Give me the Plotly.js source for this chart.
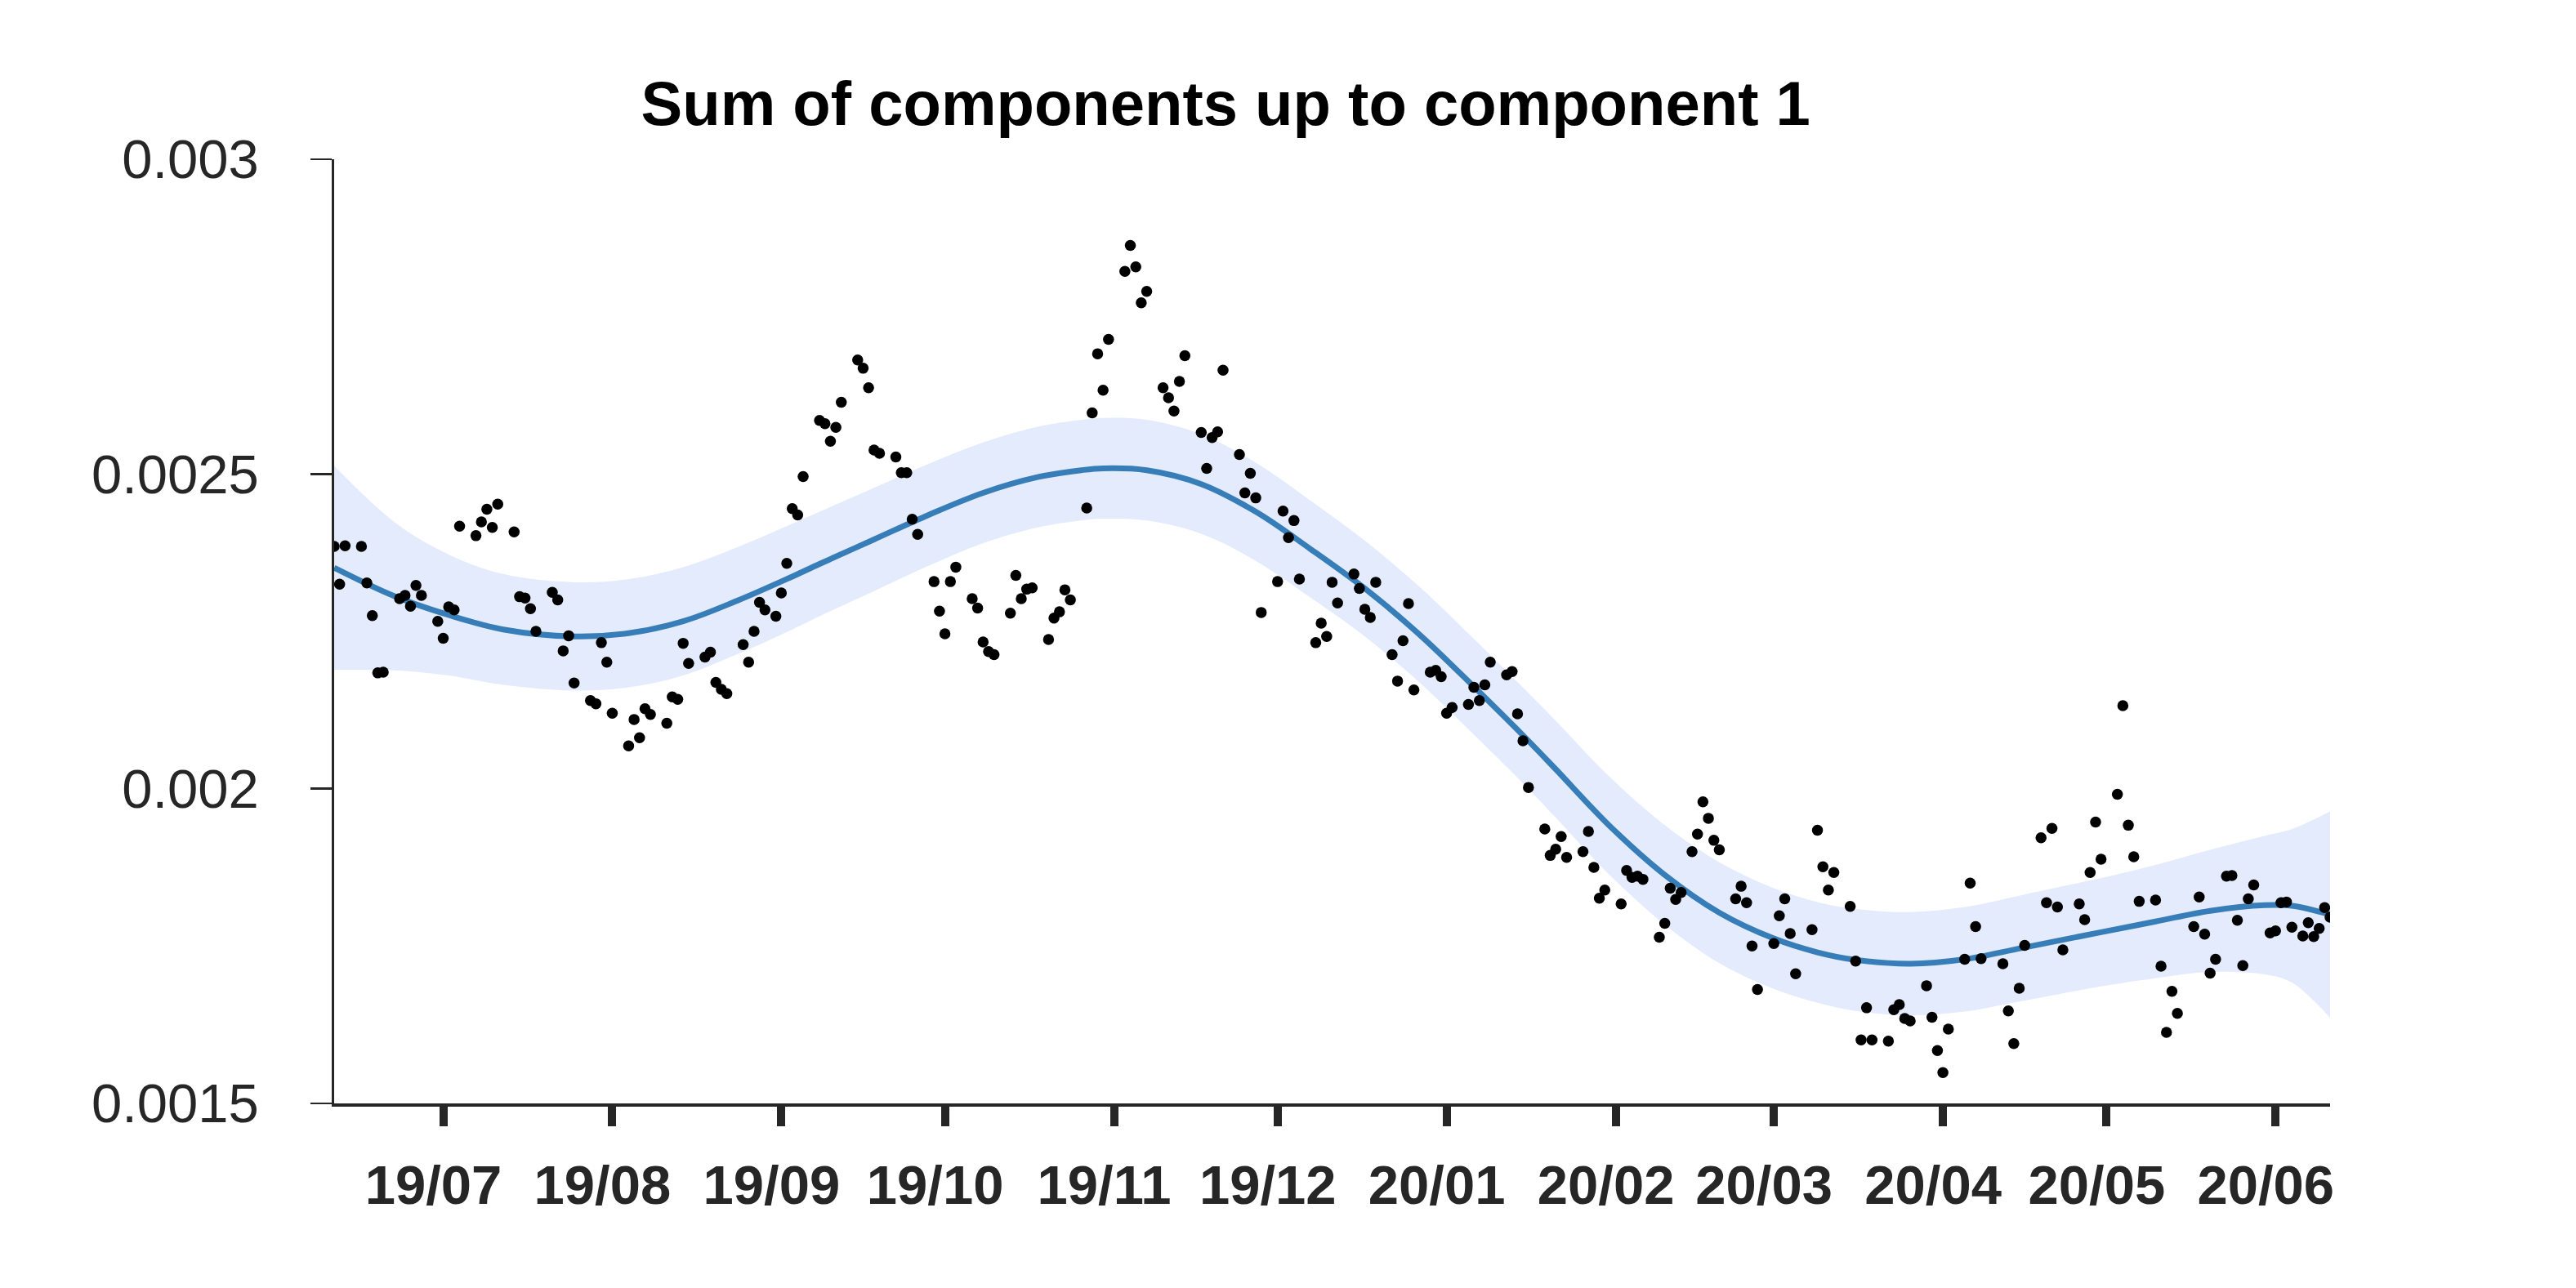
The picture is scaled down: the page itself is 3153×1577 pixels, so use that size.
<!DOCTYPE html>
<html>
<head>
<meta charset="utf-8">
<script src="https://cdn.plot.ly/plotly-3.0.1.min.js"></script>
<style>html,body{margin:0;padding:0;background:#fff;}#chart{width:3153px;height:1577px;}</style>
</head>
<body>
<div id="chart"></div>
<script>
// Observed points (dates and values)
const pointDates = [
"2019-06-11","2019-06-12","2019-06-13","2019-06-16","2019-06-17","2019-06-18","2019-06-19","2019-06-20",
"2019-06-23","2019-06-24","2019-06-25","2019-06-26","2019-06-27","2019-06-30","2019-07-01","2019-07-02",
"2019-07-03","2019-07-04","2019-07-07","2019-07-08","2019-07-09","2019-07-10","2019-07-11","2019-07-14",
"2019-07-15","2019-07-16","2019-07-17","2019-07-18","2019-07-21","2019-07-22","2019-07-23","2019-07-24",
"2019-07-25","2019-07-28","2019-07-29","2019-07-30","2019-07-31","2019-08-01","2019-08-04","2019-08-05",
"2019-08-06","2019-08-07","2019-08-08","2019-08-11","2019-08-12","2019-08-13","2019-08-14","2019-08-15",
"2019-08-18","2019-08-19","2019-08-20","2019-08-21","2019-08-22","2019-08-25","2019-08-26","2019-08-27",
"2019-08-28","2019-08-29","2019-08-31","2019-09-01","2019-09-02","2019-09-03","2019-09-04","2019-09-05",
"2019-09-08","2019-09-09","2019-09-10","2019-09-11","2019-09-12","2019-09-15","2019-09-16","2019-09-17",
"2019-09-18","2019-09-19","2019-09-22","2019-09-23","2019-09-24","2019-09-25","2019-09-26","2019-09-29",
"2019-09-30","2019-10-01","2019-10-02","2019-10-03","2019-10-06","2019-10-07","2019-10-08","2019-10-09",
"2019-10-10","2019-10-13","2019-10-14","2019-10-15","2019-10-16","2019-10-17","2019-10-20","2019-10-21",
"2019-10-22","2019-10-23","2019-10-24","2019-10-27","2019-10-28","2019-10-29","2019-10-30","2019-10-31",
"2019-11-03","2019-11-04","2019-11-05","2019-11-06","2019-11-07","2019-11-10","2019-11-11","2019-11-12",
"2019-11-13","2019-11-14","2019-11-17","2019-11-18","2019-11-19","2019-11-20","2019-11-21","2019-11-24",
"2019-11-25","2019-11-26","2019-11-27","2019-11-28","2019-12-01","2019-12-02","2019-12-03","2019-12-04",
"2019-12-05","2019-12-08","2019-12-09","2019-12-10","2019-12-11","2019-12-12","2019-12-15","2019-12-16",
"2019-12-17","2019-12-18","2019-12-19","2019-12-22","2019-12-23","2019-12-24","2019-12-25","2019-12-26",
"2019-12-29","2019-12-30","2019-12-31","2020-01-01","2020-01-02","2020-01-05","2020-01-06","2020-01-07",
"2020-01-08","2020-01-09","2020-01-12","2020-01-13","2020-01-14","2020-01-15","2020-01-16","2020-01-19",
"2020-01-20","2020-01-21","2020-01-22","2020-01-23","2020-01-26","2020-01-27","2020-01-28","2020-01-29",
"2020-01-30","2020-02-02","2020-02-03","2020-02-04","2020-02-05","2020-02-06","2020-02-09","2020-02-10",
"2020-02-11","2020-02-12","2020-02-13","2020-02-15","2020-02-16","2020-02-17","2020-02-18","2020-02-19",
"2020-02-20","2020-02-23","2020-02-24","2020-02-25","2020-02-26","2020-02-27","2020-03-01","2020-03-02",
"2020-03-03","2020-03-04","2020-03-05","2020-03-08","2020-03-09","2020-03-10","2020-03-11","2020-03-12",
"2020-03-15","2020-03-16","2020-03-17","2020-03-18","2020-03-19","2020-03-22","2020-03-23","2020-03-24",
"2020-03-25","2020-03-26","2020-03-29","2020-03-30","2020-03-31","2020-04-01","2020-04-02","2020-04-05",
"2020-04-06","2020-04-07","2020-04-08","2020-04-12","2020-04-13","2020-04-14","2020-04-15","2020-04-16",
"2020-04-19","2020-04-20","2020-04-21","2020-04-22","2020-04-23","2020-04-26","2020-04-27","2020-04-28",
"2020-04-29","2020-04-30","2020-05-03","2020-05-04","2020-05-05","2020-05-06","2020-05-07","2020-05-10",
"2020-05-11","2020-05-12","2020-05-13","2020-05-14","2020-05-17","2020-05-18","2020-05-19","2020-05-20",
"2020-05-21","2020-05-23","2020-05-24","2020-05-25","2020-05-26","2020-05-27","2020-05-28","2020-05-31",
"2020-06-01","2020-06-02","2020-06-03","2020-06-04","2020-06-06","2020-06-07","2020-06-08","2020-06-09",
"2020-06-10","2020-06-11"
];
const pointValues = [
0.002385,0.002325,0.002386,0.002385,0.002327,0.002275,0.002184,0.002185,
0.002302,0.002307,0.002290,0.002323,0.002307,0.002266,0.002239,0.002289,
0.002284,0.002417,0.002402,0.002424,0.002444,0.002415,0.002452,0.002408,
0.002305,0.002303,0.002286,0.002250,0.002312,0.002300,0.002219,0.002243,
0.002168,0.002140,0.002135,0.002232,0.002201,0.002120,0.002068,0.002110,
0.002081,0.002127,0.002118,0.002104,0.002146,0.002142,0.002231,0.002199,
0.002209,0.002217,0.002169,0.002158,0.002151,0.002229,0.002201,0.002250,
0.002296,0.002284,0.002274,0.002311,0.002358,0.002445,0.002435,0.002496,
0.002585,0.002580,0.002552,0.002574,0.002614,0.002681,0.002668,0.002637,
0.002538,0.002533,0.002527,0.002502,0.002502,0.002428,0.002404,0.002329,
0.002282,0.002246,0.002329,0.002352,0.002302,0.002287,0.002233,0.002218,
0.002213,0.002279,0.002339,0.002302,0.002317,0.002319,0.002237,0.002271,
0.002281,0.002316,0.002300,0.002446,0.002597,0.002691,0.002633,0.002714,
0.002822,0.002863,0.002829,0.002772,0.002790,0.002637,0.002621,0.002600,
0.002647,0.002688,0.002566,0.002509,0.002558,0.002567,0.002665,0.002531,
0.002470,0.002501,0.002462,0.002280,0.002329,0.002441,0.002399,0.002426,
0.002333,0.002232,0.002263,0.002242,0.002328,0.002295,0.002341,0.002318,
0.002285,0.002272,0.002328,0.002213,0.002171,0.002235,0.002294,0.002157,
0.002185,0.002188,0.002178,0.002120,0.002129,0.002134,0.002161,0.002140,
0.002165,0.002201,0.002181,0.002186,0.002119,0.002076,0.002002,0.001936,
0.001894,0.001904,0.001924,0.001891,0.001900,0.001932,0.001875,0.001826,
0.001839,0.001817,0.001870,0.001859,0.001861,0.001856,0.001764,0.001786,
0.001842,0.001824,0.001835,0.001900,0.001928,0.001979,0.001953,0.001918,
0.001903,0.001825,0.001845,0.001819,0.001750,0.001681,0.001754,0.001798,
0.001825,0.001770,0.001706,0.001776,0.001934,0.001876,0.001839,0.001867,
0.001813,0.001726,0.001601,0.001652,0.001601,0.001599,0.001649,0.001657,
0.001635,0.001631,0.001687,0.001637,0.001584,0.001549,0.001618,0.001729,
0.001850,0.001781,0.001730,0.001722,0.001647,0.001595,0.001683,0.001751,
0.001922,0.001819,0.001937,0.001812,0.001744,0.001817,0.001792,0.001867,
0.001947,0.001888,0.001991,0.002132,0.001942,0.001892,0.001821,0.001823,
0.001718,0.001613,0.001678,0.001643,0.001781,0.001828,0.001769,0.001707,
0.001729,0.001861,0.001862,0.001791,0.001719,0.001825,0.001847,0.001771,
0.001774,0.001819,0.001820,0.001780,0.001766,0.001787,0.001765,0.001778,
0.001811,0.001796
];

// Fitted component sum (read at sample dates) and its band
const fitDates = [
"2019-06-11","2019-06-22","2019-07-02","2019-07-12","2019-07-25","2019-08-04","2019-08-14","2019-08-24",
"2019-09-03","2019-09-08","2019-09-18","2019-09-28","2019-10-08","2019-10-18","2019-10-26","2019-10-30",
"2019-11-07","2019-11-17","2019-11-27","2019-12-07","2019-12-17","2019-12-27","2020-01-06","2020-01-16",
"2020-01-21","2020-01-31","2020-02-10","2020-02-20","2020-03-01","2020-03-09","2020-03-16","2020-03-26",
"2020-04-05","2020-04-15","2020-04-23","2020-04-30","2020-05-10","2020-05-20","2020-05-30","2020-06-04",
"2020-06-11"
];
const fitMean = [
0.002351,0.002306,0.002276,0.002253,0.002242,0.002247,0.002266,0.002299,
0.002337,0.002357,0.002396,0.002435,0.002470,0.002495,0.002506,0.002509,
0.002506,0.002484,0.002440,0.002381,0.002318,0.002245,0.002162,0.002076,
0.002031,0.001940,0.001863,0.001803,0.001762,0.001740,0.001728,0.001722,
0.001729,0.001746,0.001760,0.001772,0.001789,0.001806,0.001815,0.001814,
0.001800
];
const fitUpper = [
0.002513,0.002424,0.002372,0.002341,0.002328,0.002333,0.002352,0.002384,
0.002421,0.002440,0.002478,0.002516,0.002550,0.002575,0.002586,0.002589,
0.002586,0.002563,0.002518,0.002458,0.002394,0.002321,0.002238,0.002152,
0.002108,0.002018,0.001942,0.001883,0.001842,0.001820,0.001809,0.001804,
0.001812,0.001830,0.001845,0.001858,0.001879,0.001903,0.001925,0.001936,
0.001964
];
const fitLower = [
0.002189,0.002188,0.002180,0.002165,0.002156,0.002161,0.002180,0.002214,
0.002253,0.002274,0.002314,0.002354,0.002390,0.002415,0.002426,0.002429,
0.002426,0.002405,0.002362,0.002304,0.002242,0.002169,0.002086,0.002000,
0.001954,0.001862,0.001784,0.001723,0.001682,0.001660,0.001647,0.001640,
0.001646,0.001662,0.001675,0.001686,0.001699,0.001709,0.001705,0.001692,
0.001636
];

const xTickVals = ["2019-07-01","2019-08-01","2019-09-01","2019-10-01","2019-11-01","2019-12-01",
"2020-01-01","2020-02-01","2020-03-01","2020-04-01","2020-05-01","2020-06-01"];
const xTickText = ["19/07","19/08","19/09","19/10","19/11","19/12","20/01","20/02","20/03","20/04","20/05","20/06"];
const yTickVals = [0.0015, 0.002, 0.0025, 0.003];
const yTickText = ["0.0015","0.002","0.0025","0.003"];

const FONT = "Liberation Sans, Arial, Helvetica, sans-serif";
const AX = "#262626";

const traces = [
  {x: fitDates, y: fitLower, type: "scatter", mode: "lines",
   line: {width: 0, shape: "spline", smoothing: 1, color: "rgba(0,0,0,0)"}, hoverinfo: "skip"},
  {x: fitDates, y: fitUpper, type: "scatter", mode: "lines", fill: "tonexty",
   fillcolor: "#e3ebfc", line: {width: 0, shape: "spline", smoothing: 1, color: "rgba(0,0,0,0)"}, hoverinfo: "skip"},
  {x: fitDates, y: fitMean, type: "scatter", mode: "lines",
   line: {width: 7, shape: "spline", smoothing: 1, color: "#377eb8"}},
  {x: pointDates, y: pointValues, type: "scatter", mode: "markers",
   marker: {size: 13.5, color: "#000000", line: {width: 0}}}
];

const layout = {
  width: 3153, height: 1577,
  paper_bgcolor: "#ffffff", plot_bgcolor: "#ffffff",
  showlegend: false,
  margin: {l: 409, r: 301, t: 195, b: 226, pad: 0},
  title: {
    text: "Sum of components up to component 1",
    font: {family: FONT, size: 76, color: "#000000", weight: "bold"},
    x: 0.4758, xref: "container", xanchor: "center",
    y: 1 - 126/1577, yref: "container", yanchor: "middle"
  },
  xaxis: {
    type: "date",
    range: ["2019-06-11", "2020-06-11"],
    tickmode: "array", tickvals: xTickVals, ticktext: xTickText,
    ticks: "outside", ticklen: 24, tickwidth: 10, tickcolor: AX,
    showline: true, linewidth: 4, linecolor: AX,
    showgrid: false, zeroline: false,
    tickfont: {family: FONT, size: 67, color: AX, weight: "bold"},
    ticklabelstandoff: 15, ticklabelshift: -12
  },
  yaxis: {
    range: [0.0015, 0.003],
    tickmode: "array", tickvals: yTickVals, ticktext: yTickText,
    ticks: "outside", ticklen: 26, tickwidth: 2.7, tickcolor: AX,
    showline: true, linewidth: 2.7, linecolor: AX,
    showgrid: false, zeroline: false,
    tickfont: {family: FONT, size: 67, color: AX},
    ticklabelstandoff: 50
  }
};

Plotly.newPlot("chart", traces, layout, {staticPlot: true, displayModeBar: false});
</script>
</body>
</html>
